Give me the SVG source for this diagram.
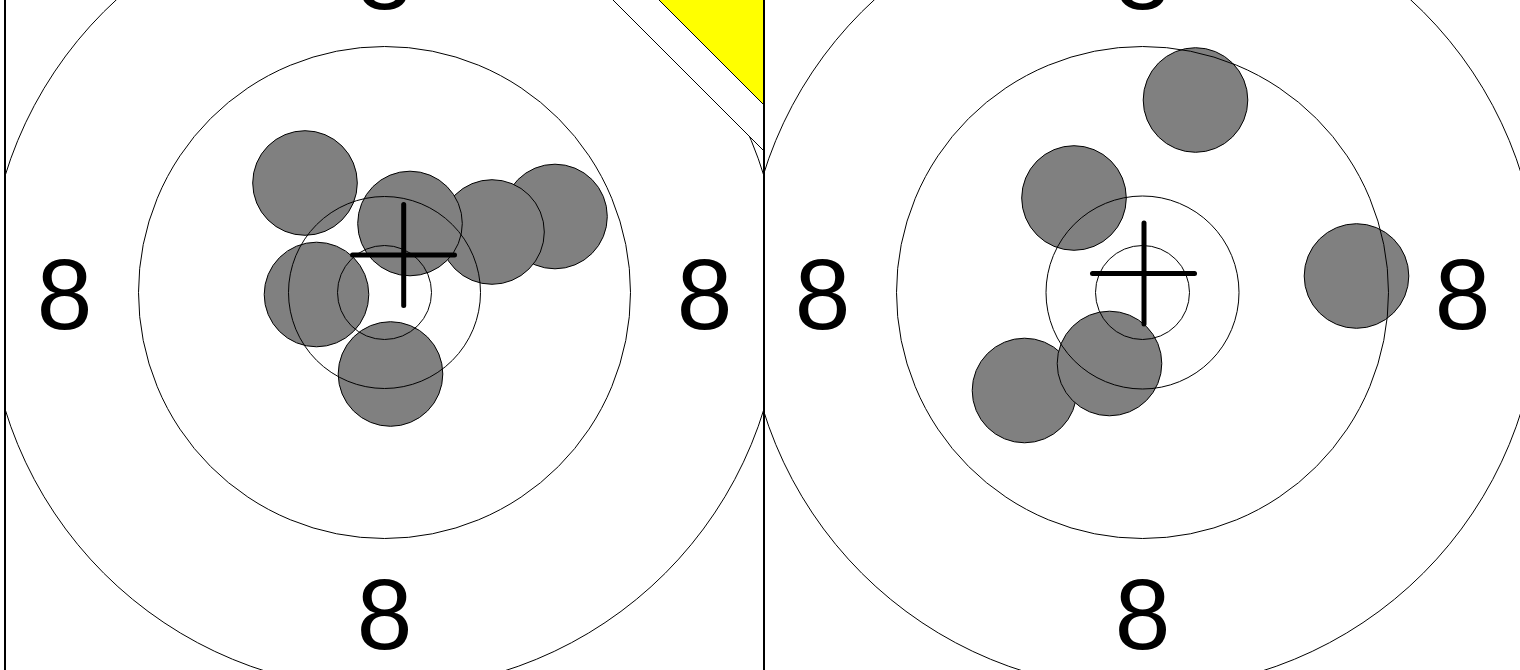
<svg xmlns="http://www.w3.org/2000/svg" width="1520" height="670" viewBox="0 0 1520 670">
  <style>
    .ring { fill: none; stroke: #000; stroke-width: 1; }
    .shot { fill: #808080; stroke: #000; stroke-width: 1; }
    .cross { stroke: #000; stroke-width: 5; stroke-linecap: round; fill: none; }
    .num { font-family: "Liberation Sans", Arial, sans-serif; font-size: 100px; fill: #000; text-anchor: middle; }
    .frame { fill: none; stroke: #000; stroke-width: 2; }
  </style>
  <defs>
    <clipPath id="clipL"><rect x="5" y="-100" width="759" height="900"/></clipPath>
    <clipPath id="clipR"><rect x="764" y="-100" width="760" height="900"/></clipPath>
  </defs>
  <rect x="0" y="0" width="1520" height="670" fill="#fff"/>

  <g id="target-left" clip-path="url(#clipL)">
    <g id="left-shots">
      <circle class="shot" cx="305" cy="183" r="52.3"/>
      <circle class="shot" cx="555" cy="216.5" r="52.3"/>
      <circle class="shot" cx="492" cy="232" r="52.3"/>
      <circle class="shot" cx="410" cy="223.5" r="52.3"/>
      <circle class="shot" cx="316.5" cy="294.5" r="52.3"/>
      <circle class="shot" cx="390.5" cy="374" r="52.3"/>
    </g>
    <g id="left-rings">
      <circle class="ring" cx="384.5" cy="292.5" r="47"/>
      <circle class="ring" cx="384.5" cy="292.5" r="96"/>
      <circle class="ring" cx="384.5" cy="292.5" r="246"/>
      <circle class="ring" cx="384.5" cy="292.5" r="397"/>
    </g>
    <g id="left-labels">
      <text class="num" x="384.5" y="9">8</text>
      <text class="num" x="64.5" y="329">8</text>
      <text class="num" x="704.5" y="329">8</text>
      <text class="num" x="384.5" y="649">8</text>
    </g>
    <g id="left-flag">
      <polygon points="612,-1 764,-1 764,151" fill="#fff" stroke="#000" stroke-width="1"/>
      <polygon points="658,-1 764,-1 764,105" fill="#ffff00" stroke="#000" stroke-width="1"/>
    </g>
    <g id="left-cross">
      <line class="cross" x1="352.5" y1="255" x2="454.5" y2="255"/>
      <line class="cross" x1="403.7" y1="204.5" x2="403.7" y2="305.5"/>
    </g>
  </g>

  <g id="target-right" clip-path="url(#clipR)">
    <g id="right-shots">
      <circle class="shot" cx="1195.5" cy="100" r="52.3"/>
      <circle class="shot" cx="1074" cy="198" r="52.3"/>
      <circle class="shot" cx="1356.5" cy="276" r="52.3"/>
      <circle class="shot" cx="1024.5" cy="390.5" r="52.3"/>
      <circle class="shot" cx="1109.5" cy="363.5" r="52.3"/>
    </g>
    <g id="right-rings">
      <circle class="ring" cx="1142.5" cy="292.5" r="47"/>
      <circle class="ring" cx="1142.5" cy="292.5" r="96.5"/>
      <circle class="ring" cx="1142.5" cy="292.5" r="246"/>
      <circle class="ring" cx="1142.5" cy="292.5" r="397"/>
    </g>
    <g id="right-labels">
      <text class="num" x="1142.5" y="9">8</text>
      <text class="num" x="822.5" y="329">8</text>
      <text class="num" x="1462.5" y="329">8</text>
      <text class="num" x="1142.5" y="649">8</text>
    </g>
    <g id="right-cross">
      <line class="cross" x1="1092.5" y1="273.5" x2="1194.5" y2="273.5"/>
      <line class="cross" x1="1144" y1="223" x2="1144" y2="324"/>
    </g>
  </g>

  <g id="frames">
    <line class="frame" x1="5" y1="0" x2="5" y2="670" stroke="#555"/>
    <line class="frame" x1="764" y1="0" x2="764" y2="670"/>
  </g>
</svg>
